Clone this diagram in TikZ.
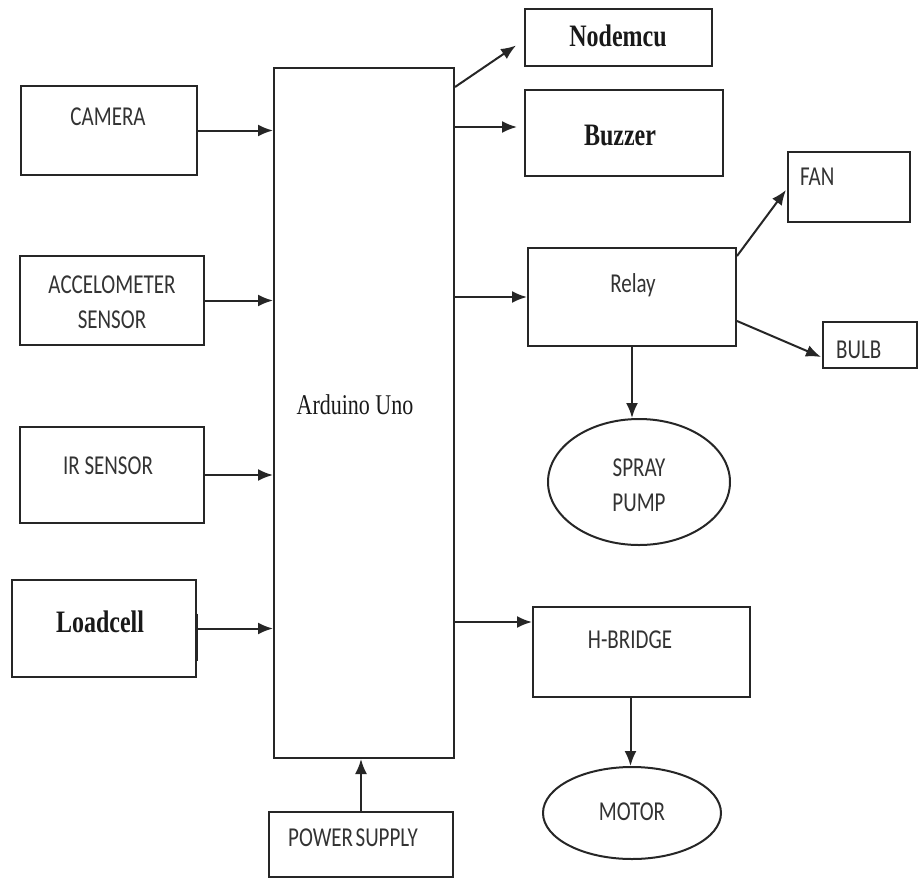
\documentclass[tikz,border=0pt]{standalone}
\usepackage{fontspec}
\usepackage{graphicx}
\setmainfont{Carlito}
\newfontfamily\tnr{Liberation Serif}
\usetikzlibrary{fit,calc,arrows.meta,shapes.geometric}
\newcommand{\vtx}[1]{\scalebox{1}[1.3]{#1}}
\tikzset{
  box/.style={draw=black!85, line width=2pt, inner sep=0pt, fill=none},
  oval/.style={draw=black!85, line width=2pt, ellipse, inner sep=0pt},
  arr/.style={draw=black!85, line width=2pt, -{Latex[length=15pt,width=12pt]}},
  lbl/.style={font=\fontsize{21}{23}\selectfont, text=black!80, inner sep=0pt},
  tlbl/.style={font=\tnr\bfseries\fontsize{24}{26}\selectfont, text=black!90, inner sep=0pt},
}
\begin{document}
\begin{tikzpicture}[x=1pt,y=-1pt]
\useasboundingbox (0,0) rectangle (919,879);
% boxes
\node[box, fit={(21,86) (197,175)}] (cam) {};
\node[box, fit={(20,256) (204,345)}] (acc) {};
\node[box, fit={(20,427) (204,523)}] (ir) {};
\node[box, fit={(12,580) (196,677)}] (load) {};
\node[box, fit={(274,68) (454,758)}] (ard) {};
\node[box, fit={(525,9) (712,66)}] (nod) {};
\node[box, fit={(525,90) (723,176)}] (buz) {};
\node[box, fit={(528,248) (736,346)}] (rel) {};
\node[box, fit={(788,152) (910,222)}] (fan) {};
\node[box, fit={(823,322) (917,368)}] (bulb) {};
\node[box, fit={(533,607) (750,697)}] (hb) {};
\node[box, fit={(269,812) (453,877)}] (pow) {};
\node[oval, minimum width=182pt, minimum height=126pt] (pump) at (639,482) {};
\node[oval, minimum width=178pt, minimum height=92pt] (mot) at (632,813) {};
% texts
\node[lbl] (tcam) at (108,117) {\vtx{CAMERA}};
\node[lbl] (tacc1) at (112,285) {\vtx{ACCELOMETER}};
\node[lbl] (tacc2) at (112,320) {\vtx{SENSOR}};
\node[lbl] (tir) at (108,466) {\vtx{IR SENSOR}};
\node[tlbl] (tload) at (100,622) {\vtx{Loadcell}};
\node[tlbl, font=\tnr\fontsize{22}{24}\selectfont] (tard) at (355,405) {\vtx{Arduino Uno}};
\node[tlbl] (tnod) at (618,36) {\vtx{Nodemcu}};
\node[tlbl] (tbuz) at (620,135) {\vtx{Buzzer}};
\node[lbl] (trel) at (633,285) {\vtx{Relay}};
\node[lbl, anchor=west] (tfan) at (800,177) {\vtx{FAN}};
\node[lbl, anchor=west] (tbulb) at (836,350) {\vtx{BULB}};
\node[lbl] (tsp1) at (639,468) {\vtx{SPRAY}};
\node[lbl] (tsp2) at (639,503) {\vtx{PUMP}};
\node[lbl] (thb) at (630,640) {\vtx{H-BRIDGE}};
\node[lbl] (tmot) at (632,812) {\vtx{MOTOR}};
\node[lbl] (tpow) at (353,838) {\vtx{POWER\hspace{0.12em}SUPPLY}};
% connectors
\draw[arr] (cam.east) -- (cam.east -| ard.west);
\draw[arr] (acc.east) -- (acc.east -| ard.west);
\draw[arr] (ir.east) -- (ir.east -| ard.west);
\draw[arr] (load.east) -- (load.east -| ard.west);
\draw[black!85, line width=2pt] ($(load.east)+(0,-15)$) -- ($(load.east)+(0,32)$);
\coordinate (nodtip) at ($(nod.west)+(-8,8)$);
\draw[arr] ($(ard.north east)+(0,20)$) -- (nodtip);
\coordinate (buztip) at ($(buz.west)+(-7,-6)$);
\draw[arr] (buztip -| ard.east) -- (buztip);
\draw[arr] (rel.west -| ard.east) -- (rel.west);
\draw[arr] ($(rel.north east)+(0,9)$) -- ($(fan.west)+(-1,3)$);
\draw[arr] ($(rel.north east)+(0,74)$) -- ($(bulb.west)+(-1,12)$);
\coordinate (relb) at ($(rel.south)+(0,0)$);
\draw[arr] (relb) -- (relb |- pump.north);
\coordinate (hbtip) at ($(hb.north west)+(0,16)$);
\draw[arr] (hbtip -| ard.east) -- (hbtip);
\coordinate (hbb) at ($(hb.south)+(-11,0)$);
\draw[arr] (hbb) -- (hbb |- mot.north);
\draw[arr] (pow.north) -- (pow.north |- ard.south);
\end{tikzpicture}
\end{document}
